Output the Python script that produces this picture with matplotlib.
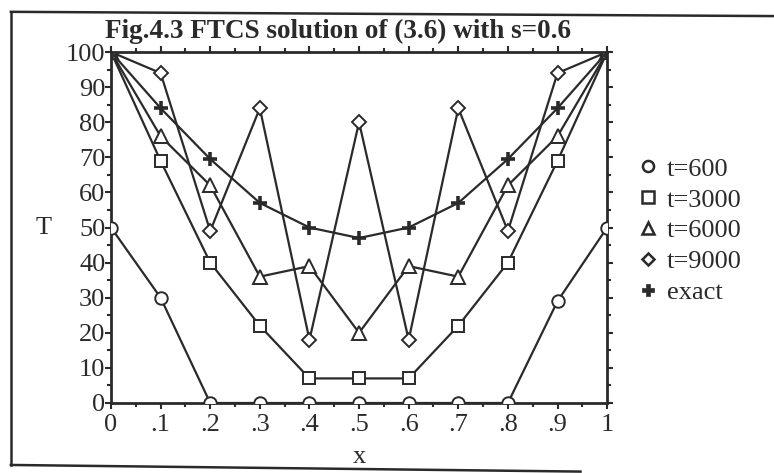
import matplotlib
matplotlib.use("Agg")
import matplotlib.pyplot as plt
from matplotlib.lines import Line2D
from matplotlib.ticker import MultipleLocator, FuncFormatter

x = [0.0, 0.1, 0.2, 0.3, 0.4, 0.5, 0.6, 0.7, 0.8, 0.9, 1.0]
t600 = [50, 30, 0, 0, 0, 0, 0, 0, 0, 29, 50]
t3000 = [100, 69, 40, 22, 7, 7, 7, 22, 40, 69, 100]
t6000 = [100, 76, 62, 36, 39, 20, 39, 36, 62, 76, 100]
t9000 = [100, 94, 49, 84, 18, 80, 18, 84, 49, 94, 100]
exact = [100, 84, 69.5, 57, 50, 47, 50, 57, 69.5, 84, 100]
labels = ["t=600", "t=3000", "t=6000", "t=9000", "exact"]

plt.rcParams['font.family'] = ['Liberation Serif', 'DejaVu Serif']

fig = plt.figure(figsize=(7.74, 4.73), dpi=100)
ax = fig.add_axes([0.1434, 0.148, 0.641, 0.742])

c = '#2a2a2a'
lw = 1.6
common = dict(color=c, lw=lw, mfc='white', mec=c, mew=1.4, clip_on=True)
ax.plot(x, t600, marker='o', ms=9, **common, zorder=3)
ax.plot(x, t3000, marker='s', ms=9, **common, zorder=3)
ax.plot(x, t6000, marker='^', ms=9.5, **common, zorder=3)
ax.plot(x, t9000, marker='D', ms=7, **common, zorder=3)
ax.plot(x, exact, marker='+', color=c, lw=lw, mec=c, mew=2.6, ms=9.5, zorder=4)

ax.set_xlim(0, 1)
ax.set_ylim(0, 100)
ax.xaxis.set_major_locator(MultipleLocator(0.1))
ax.xaxis.set_minor_locator(MultipleLocator(0.05))
ax.yaxis.set_major_locator(MultipleLocator(10))
ax.yaxis.set_minor_locator(MultipleLocator(5))

def xfmt(v, pos):
    if abs(v) < 1e-9:
        return "0"
    if abs(v - 1) < 1e-9:
        return "1"
    return ("%.1f" % v)[1:]
ax.xaxis.set_major_formatter(FuncFormatter(xfmt))

ax.tick_params(which='both', direction='out', top=True, right=True,
               labeltop=False, labelright=False, color=c, width=1.5)
ax.tick_params(which='major', length=4, labelsize=19, labelcolor=c)
ax.tick_params(axis='y', which='major', pad=0)
ax.tick_params(axis='x', which='major', pad=4)
ax.tick_params(which='minor', length=3)
for s in ax.spines.values():
    s.set_linewidth(2)
    s.set_color(c)

ax.set_xlabel("x", fontsize=19, color=c, labelpad=7)
ax.set_ylabel("T", fontsize=19, color=c, rotation=0, labelpad=16, va='center')

fig.text(0.437, 0.934, "Fig.4.3 FTCS solution of (3.6) with s=0.6",
         fontsize=19.5, fontweight='bold', ha='center', va='center', color=c)

handles = [
    Line2D([], [], ls='none', marker='o', mfc='white', mec=c, mew=1.8, ms=8),
    Line2D([], [], ls='none', marker='s', mfc='white', mec=c, mew=1.8, ms=8),
    Line2D([], [], ls='none', marker='^', mfc='white', mec=c, mew=1.8, ms=8),
    Line2D([], [], ls='none', marker='D', mfc='white', mec=c, mew=1.8, ms=6),
    Line2D([], [], ls='none', marker='P', mfc=c, mec=c, mew=0.5, ms=8),
]
leg = fig.legend(handles, labels, loc='upper left', bbox_to_anchor=(0.812, 0.69),
                 frameon=False, fontsize=19, handlelength=0.7, handletextpad=0.35,
                 labelspacing=0.28, borderaxespad=0)
for t in leg.get_texts():
    t.set_color(c)

# outer frame
fig.add_artist(Line2D([0.014, 0.014], [0.975, 0.017], color=c, lw=1.8, transform=fig.transFigure))
fig.add_artist(Line2D([0.014, 1.0], [0.975, 0.966], color=c, lw=1.8, transform=fig.transFigure))
fig.add_artist(Line2D([0.014, 0.75], [0.017, 0.003], color=c, lw=1.8, transform=fig.transFigure))

fig.savefig("out.png", dpi=100)
